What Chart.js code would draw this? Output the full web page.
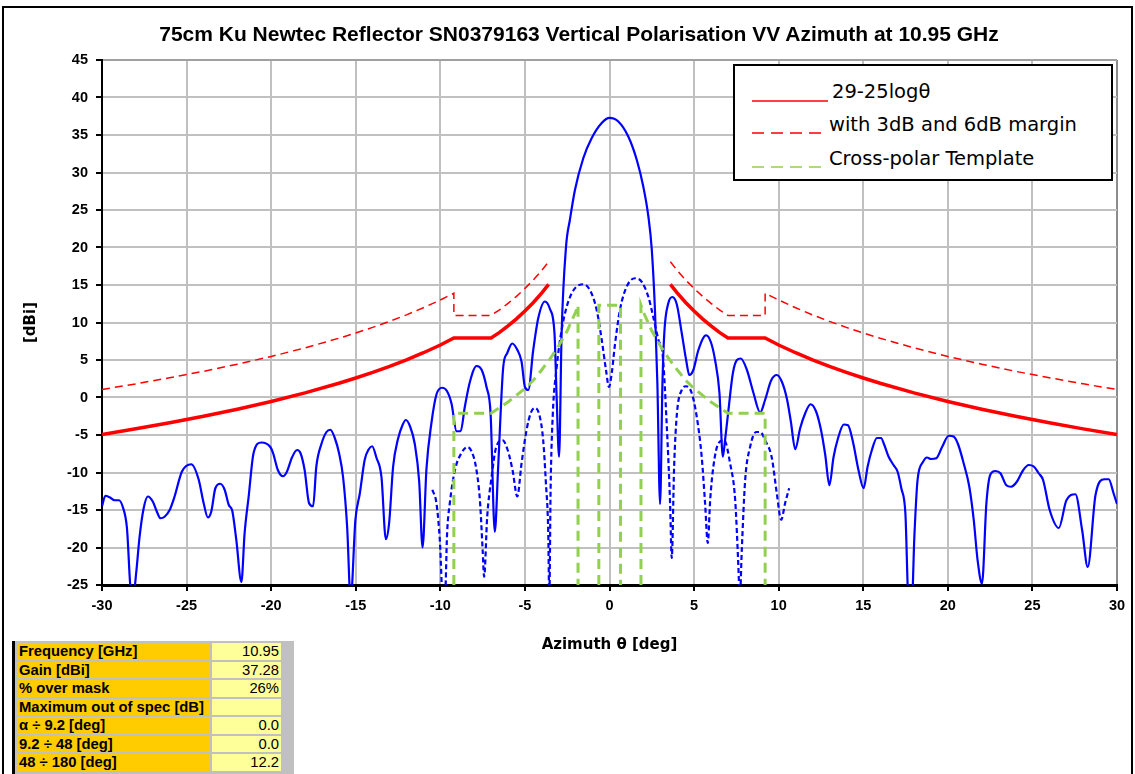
<!DOCTYPE html>
<html>
<head>
<meta charset="utf-8">
<script src="https://cdn.jsdelivr.net/npm/chart.js@4.4.0/dist/chart.umd.min.js"></script>
<style>
  html, body { margin: 0; padding: 0; background: #fff; }
  #wrap { position: relative; width: 1135px; height: 774px; overflow: hidden; background: #fff; }
  #frame { position: absolute; left: 2px; top: 6px; width: 1131px; height: 820px; border: 2px solid #000; box-sizing: border-box; }
  #chart { position: absolute; left: 0; top: 0; }
  #title { position: absolute; left: 0; top: 22px; width: 1158px; text-align: center;
           font: bold 21px "Liberation Sans", Arial, sans-serif; color: #000; white-space: nowrap; }
  #legend { position: absolute; left: 733px; top: 64px; width: 380px; height: 117px; box-sizing: border-box;
            border: 2px solid #000; background: #fff; font: 19.5px "DejaVu Sans", sans-serif; color: #000; }
  #legend svg { position: absolute; left: 17px; }
  #legend span { position: absolute; line-height: 19.5px; white-space: nowrap; }
  #stats { position: absolute; left: 12px; top: 641px; width: 282px; height: 140px; background: #c0c0c0;
           border-left: 3px solid #000; box-sizing: border-box; }
  #stats table { border-collapse: separate; border-spacing: 2px 2.6px; margin-top: 0px; }
  #stats td { height: 16.5px; padding: 0 2px; font: 14.8px "Liberation Sans", Arial, sans-serif; line-height: 16px; }
  #stats td.k { background: #ffcc00; font-weight: bold; width: 189px; }
  #stats td.v { background: #ffff99; text-align: right; width: 65px; }
</style>
</head>
<body>
<div id="wrap">
  <div id="frame"></div>
  <canvas id="chart" width="1135" height="774"></canvas>
  <div id="title">75cm Ku Newtec Reflector SN0379163 Vertical Polarisation VV Azimuth at 10.95 GHz</div>
  <div id="legend"></div>
  <div id="stats"><table id="statsTable"></table></div>
</div>
<script>
// ---------- Axis ticks ----------
const xTickValues = [-30, -25, -20, -15, -10, -5, 0, 5, 10, 15, 20, 25, 30];
const yTickValues = [-25, -20, -15, -10, -5, 0, 5, 10, 15, 20, 25, 30, 35, 40, 45];

// ---------- Co-polar pattern (solid blue) ----------
const coAz = [
  -30.0, -29.8, -29.55, -29.25, -29.0, -28.77, -28.53, -28.27, -28.12, -27.98,
  -27.78, -27.54, -27.29, -26.99, -26.76, -26.54, -26.3, -26.0, -25.71, -25.28,
  -24.72, -24.29, -23.99, -23.74, -23.54, -23.3, -23.01, -22.75, -22.51, -22.3,
  -22.06, -21.76, -21.57, -21.33, -21.04, -20.58, -20.05, -19.89, -19.6, -19.3,
  -19.07, -18.77, -18.47, -18.27, -18.02, -17.76, -17.52, -17.33, -17.03, -16.73,
  -16.5, -16.24, -15.99, -15.75, -15.51, -15.3, -15.02, -14.76, -14.47, -14.23,
  -14.03, -13.78, -13.48, -13.22, -13.03, -12.79, -12.5, -12.24, -12.04, -11.8,
  -11.51, -11.25, -11.05, -10.82, -10.52, -10.23, -9.9, -9.62, -9.34, -9.04,
  -8.8, -8.55, -8.25, -7.86, -7.56, -7.27, -7.03, -6.78, -6.58, -6.28,
  -6.05, -5.75, -5.46, -5.2, -5.0, -4.8, -4.51, -4.21, -3.82, -3.52,
  -3.25, -3.12, -2.98, -2.83, -2.57, -2.34, -2.04, -1.55, -1.05, -0.46,
  0.0, 0.52, 1.11, 1.61, 2.0, 2.3, 2.5, 2.69, 2.83, 2.99,
  3.13, 3.24, 3.48, 3.72, 3.98, 4.27, 4.53, 4.72, 4.96, 5.25,
  5.71, 5.99, 6.24, 6.5, 6.7, 6.83, 7.03, 7.29, 7.53, 7.76,
  8.12, 8.51, 8.91, 9.2, 9.56, 9.89, 10.19, 10.49, 10.72, 10.98,
  11.27, 11.57, 11.88, 12.2, 12.5, 12.75, 13.0, 13.24, 13.5, 13.85,
  14.1, 14.39, 14.72, 15.02, 15.26, 15.51, 15.81, 16.05, 16.24, 16.5,
  16.79, 17.03, 17.25, 17.49, 17.68, 17.88, 18.02, 18.21, 18.53, 18.77,
  19.0, 19.32, 19.66, 20.05, 20.34, 20.6, 20.94, 21.27, 21.53, 21.76,
  22.02, 22.28, 22.51, 22.81, 23.11, 23.46, 23.74, 24.09, 24.45, 24.78,
  25.08, 25.37, 25.63, 26.02, 26.56, 27.01, 27.54, 27.94, 28.27, 28.73,
  29.26, 29.51, 29.8, 30.0
];
const coGain = [
  -14.5, -13.1, -13.3, -13.7, -13.7, -14.6, -17.3, -26, -26, -23.4,
  -18.6, -14.8, -13.2, -13.9, -15.2, -16.1, -15.9, -15.0, -13.2, -9.9,
  -8.9, -10.9, -14.1, -16.0, -15.2, -12.1, -11.5, -12.3, -14.3, -15.1,
  -19.0, -24.6, -18.1, -13.2, -7.4, -6.0, -6.6, -7.4, -9.7, -10.5,
  -9.9, -8.0, -7.0, -7.4, -9.7, -14.1, -14.5, -9.2, -6.2, -4.6,
  -4.3, -5.4, -7.4, -10.6, -17.2, -27, -16.3, -12.8, -8.3, -6.9,
  -6.5, -8.0, -10.6, -18.9, -16.8, -9.2, -5.5, -3.7, -3.0, -3.8,
  -6.2, -11.2, -20.0, -9.5, -3.3, 0.4, 1.3, 0.9, -0.8, -4.5,
  -4.5, -1.2, 2.1, 4.2, 3.7, 1.4, -2.1, -17.9, -9.2, 4.1,
  5.9, 7.2, 6.4, 4.8, 1.4, 1.0, 6.3, 10.6, 12.8, 11.8,
  8.5, -0.3, -7.9, 8.6, 20.1, 23.7, 27.7, 31.9, 34.6, 36.6,
  37.28, 36.8, 34.8, 31.7, 28.1, 24.1, 19.7, 11.5, 1.9, -14.2,
  1.9, 8.6, 12.6, 13.4, 12.4, 8.6, 5.0, 3.0, 3.7, 6.3,
  8.3, 7.4, 5.0, 0.6, -7.9, -5.7, -1.7, 3.2, 5.0, 5.2,
  3.7, 0.6, -2.0, -0.3, 2.3, 3.0, 2.1, -0.2, -3.2, -6.9,
  -4.1, -2.1, -0.9, -1.8, -4.3, -7.6, -11.7, -8.0, -5.5, -3.6,
  -3.7, -5.9, -9.7, -12.1, -9.2, -7.0, -5.4, -5.4, -6.3, -7.9,
  -9.0, -9.9, -12.1, -15.4, -27, -27, -18.6, -11.0, -8.6, -8.0,
  -8.2, -8.1, -6.6, -5.1, -5.2, -6.2, -8.8, -11.9, -16.3, -21.7,
  -24.8, -14.1, -10.3, -9.8, -10.1, -11.7, -11.9, -11.2, -9.7, -9.0,
  -9.2, -10.1, -11.0, -15.0, -17.4, -13.7, -12.9, -17.7, -22.6, -13.0,
  -10.9, -10.9, -12.8, -14.2
];

// ---------- Cross-polar pattern (dashed blue) ----------
const xpAz = [
  -10.47, -10.23, -10.03, -9.85, -9.73, -9.6, -9.44, -9.14, -8.75, -8.39,
  -8.15, -7.9, -7.66, -7.5, -7.41, -7.23, -6.97, -6.72, -6.32, -6.02,
  -5.73, -5.45, -5.2, -4.9, -4.66, -4.41, -4.15, -3.92, -3.76, -3.62,
  -3.56, -3.48, -3.36, -3.12, -2.83, -2.53, -2.13, -1.55, -1.15, -0.76,
  -0.46, -0.21, -0.03, 0.13, 0.33, 0.62, 1.02, 1.51, 1.91, 2.3,
  2.63, 2.89, 3.15, 3.38, 3.58, 3.68, 3.82, 3.98, 4.27, 4.53,
  4.86, 5.16, 5.45, 5.65, 5.81, 5.95, 6.14, 6.44, 6.78, 7.13,
  7.43, 7.62, 7.7, 7.82, 8.02, 8.31, 8.67, 8.91, 9.2, 9.6,
  9.89, 10.15, 10.38, 10.62
];
const xpGain = [
  -12.3, -14.1, -19.0, -27, -27, -18.1, -14.1, -9.7, -7.4, -6.6,
  -7.2, -9.2, -13.7, -20.3, -23.9, -15.9, -10.6, -6.8, -5.7, -7.0,
  -9.7, -13.2, -8.8, -4.3, -2.1, -1.4, -2.3, -5.7, -11.4, -18.1,
  -27, -12.0, -2.6, 4.1, 9.0, 12.1, 14.3, 15.1, 14.3, 11.7,
  7.7, 3.7, 1.4, 3.2, 7.2, 11.7, 14.8, 15.9, 15.4, 13.4,
  10.3, 7.7, 5.5, -3.5, -14.0, -21.4, -9.2, -2.3, 1.0, 1.5,
  0.6, -2.6, -7.9, -14.1, -19.4, -13.7, -9.2, -6.1, -5.7, -8.8,
  -13.7, -22.6, -27, -20.3, -11.0, -6.6, -4.6, -4.6, -5.7, -8.1,
  -12.8, -16.3, -14.1, -12.1
];

// ---------- 29-25logθ mask (solid red) ----------
const maskAz = [
  -30, -28, -26, -24, -22, -20, -18, -16, -15, -14, -13, -12, -11, -10, -9.2,
  -7, -6.5, -6, -5.5, -5, -4.5, -4, -3.6, 0,
  3.6, 4, 4.5, 5, 5.5, 6, 6.5, 7,
  9.2, 10, 11, 12, 13, 14, 15, 16, 18, 20, 22, 24, 26, 28, 30
];
const maskGain = [
  -4.93, -4.18, -3.37, -2.51, -1.56, -0.53, 0.62, 1.9, 2.6, 3.35, 4.15, 5.02, 5.97, 7.0, 7.95,
  7.95, 8.68, 9.55, 10.49, 11.53, 12.67, 13.95, 15.09, null,
  15.09, 13.95, 12.67, 11.53, 10.49, 9.55, 8.68, 7.95,
  7.95, 7.0, 5.97, 5.02, 4.15, 3.35, 2.6, 1.9, 0.62, -0.53, -1.56, -2.51, -3.37, -4.18, -4.93
];

// ---------- mask with 3dB and 6dB margin (dashed red) ----------
const marginAz = [
  -30, -28, -26, -24, -22, -20, -18, -16, -15, -14, -13, -12, -11, -10, -9.2, -9.2,
  -7, -6.5, -6, -5.5, -5, -4.5, -4, -3.6, 0,
  3.6, 4, 4.5, 5, 5.5, 6, 6.5, 7,
  9.2, 9.2, 10, 11, 12, 13, 14, 15, 16, 18, 20, 22, 24, 26, 28, 30
];
const marginGain = [
  1.07, 1.82, 2.63, 3.49, 4.44, 5.47, 6.62, 7.9, 8.6, 9.35, 10.15, 11.02, 11.97, 13.0, 13.9, 10.95,
  10.95, 11.68, 12.55, 13.49, 14.53, 15.67, 16.95, 18.09, null,
  18.09, 16.95, 15.67, 14.53, 13.49, 12.55, 11.68, 10.95,
  10.95, 13.9, 13.0, 11.97, 11.02, 10.15, 9.35, 8.6, 7.9, 6.62, 5.47, 4.44, 3.49, 2.63, 1.82, 1.07
];

// ---------- Cross-polar template (dashed green) ----------
const tplAz = [
  -9.2, -9.2, -7, -6, -5, -4.5, -4, -3.5, -3, -2.5, -2, -1.86, -1.86,
  -1.2, -0.63, -0.63, 0.65, 0.65, 1.2,
  1.86, 1.86, 2, 2.5, 3, 3.5, 4, 4.5, 5, 6, 7, 9.2, 9.2
];
const tplGain = [
  -25, -2.1, -2.1, -0.6, 1.2, 2.3, 3.7, 5.2, 6.9, 8.9, 11.4, 12.3, -25,
  null, -25, 12.3, 12.3, -25, null,
  -25, 12.3, 11.4, 8.9, 6.9, 5.2, 3.7, 2.3, 1.2, -0.6, -2.1, -2.1, -25
];

// ---------- Legend and summary table ----------
const legendLabels = ['29-25logθ', 'with 3dB and 6dB margin', 'Cross-polar Template'];
const statLabels = ['Frequency [GHz]', 'Gain [dBi]', '% over mask', 'Maximum out of spec [dB]',
                    'α ÷ 9.2 [deg]', '9.2 ÷ 48 [deg]', '48 ÷ 180 [deg]'];
const statValues = ['10.95', '37.28', '26%', '', '0.0', '0.0', '12.2'];

// ---------- Helpers ----------
function toPoints(xs, ys) {
  return xs.map((x, i) => ({ x: x, y: ys[i] }));
}

// legend (html)
const legendStyles = [
  { color: '#ff0000', dash: '', len: 76, lineY: 35, textX: 97, textTop: 16 },
  { color: '#ff0000', dash: '12 7', len: 70, lineY: 67, textX: 94, textTop: 49 },
  { color: '#92d050', dash: '12 7', len: 70, lineY: 101, textX: 94, textTop: 83 }
];
const legendEl = document.getElementById('legend');
legendLabels.forEach((txt, i) => {
  const s = legendStyles[i];
  legendEl.insertAdjacentHTML('beforeend',
    `<svg width="${s.len}" height="4" style="top:${s.lineY - 2}px"><line x1="0" y1="2" x2="${s.len}" y2="2" stroke="${s.color}" stroke-width="1.6" ${s.dash ? `stroke-dasharray="${s.dash}"` : ''}/></svg>` +
    `<span style="left:${s.textX}px;top:${s.textTop}px">${txt}</span>`);
});

// summary table (html)
const tbl = document.getElementById('statsTable');
statLabels.forEach((lab, i) => {
  tbl.insertAdjacentHTML('beforeend', `<tr><td class="k">${lab}</td><td class="v">${statValues[i]}</td></tr>`);
});

// ---------- Chart ----------
const tickFont = { family: '"Liberation Sans", Arial, sans-serif', size: 14.5, weight: 'bold' };
const titleFont = { family: '"DejaVu Sans", sans-serif', size: 15, weight: 'bold' };

new Chart(document.getElementById('chart'), {
  type: 'line',
  data: {
    datasets: [
      {
        label: 'Template', data: toPoints(tplAz, tplGain),
        borderColor: '#92d050', borderWidth: 3, borderDash: [10, 6],
        pointRadius: 0, spanGaps: false, tension: 0
      },
      {
        label: 'Co-polar', data: toPoints(coAz, coGain),
        borderColor: '#0000ff', borderWidth: 2.2, pointRadius: 0,
        cubicInterpolationMode: 'monotone'
      },
      {
        label: 'Cross-polar', data: toPoints(xpAz, xpGain),
        borderColor: '#0000ff', borderWidth: 2.2, borderDash: [5, 3], pointRadius: 0,
        cubicInterpolationMode: 'monotone'
      },
      {
        label: legendLabels[0], data: toPoints(maskAz, maskGain),
        borderColor: '#ff0000', borderWidth: 3.5, pointRadius: 0, spanGaps: false, tension: 0
      },
      {
        label: legendLabels[1], data: toPoints(marginAz, marginGain),
        borderColor: '#ff0000', borderWidth: 1.5, borderDash: [8, 5], pointRadius: 0, spanGaps: false, tension: 0
      }
    ]
  },
  options: {
    responsive: false,
    animation: false,
    layout: { padding: { left: 0, top: 60, right: 18, bottom: 116 } },
    plugins: {
      legend: { display: false },
      title: { display: false },
      tooltip: { enabled: false }
    },
    scales: {
      x: {
        type: 'linear', min: -30, max: 30,
        afterBuildTicks: (axis) => { axis.ticks = xTickValues.map(v => ({ value: v })); },
        afterFit: (axis) => { axis.height = 73; },
        ticks: { font: tickFont, color: '#000', padding: 6, maxRotation: 0 },
        grid: {
          color: (c) => (c.tick && c.tick.value === 30 ? '#8c8c8c' : '#c0c0c0'),
          lineWidth: 2, tickLength: 6, tickColor: '#000', tickWidth: 2
        },
        border: { color: '#000', width: 3 },
        title: { display: true, text: 'Azimuth θ [deg]', font: titleFont, color: '#000', padding: { top: 0, bottom: 4 } }
      },
      y: {
        type: 'linear', min: -25, max: 45,
        afterBuildTicks: (axis) => { axis.ticks = yTickValues.map(v => ({ value: v })); },
        afterFit: (axis) => { axis.width = 102; },
        ticks: { font: tickFont, color: '#000', padding: 8 },
        grid: {
          color: (c) => (c.tick && c.tick.value === 45 ? '#a0a0a0' : '#c0c0c0'),
          lineWidth: 2, tickLength: 6, tickColor: '#000', tickWidth: 2
        },
        border: { color: '#000', width: 2 },
        title: { display: true, text: '[dBi]', font: titleFont, color: '#000', padding: { top: 22, bottom: 0 } }
      }
    }
  }
});
</script>
</body>
</html>
